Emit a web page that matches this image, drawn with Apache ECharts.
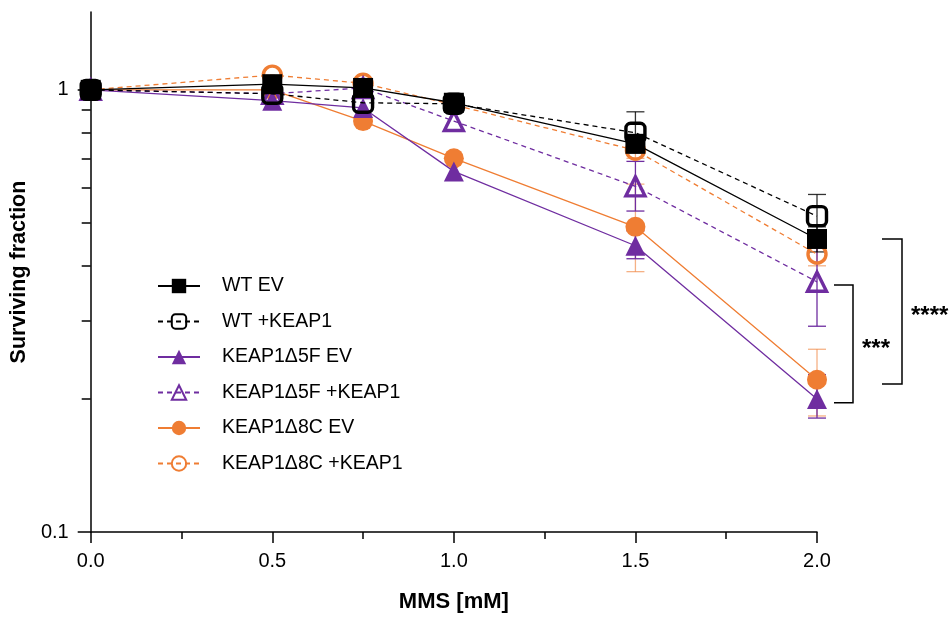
<!DOCTYPE html>
<html><head><meta charset="utf-8">
<script src="https://cdn.jsdelivr.net/npm/echarts@6/dist/echarts.min.js"></script>
<style>html,body{margin:0;padding:0;background:#fff}#c{width:949px;height:618px}</style>
</head><body><div id="c"></div>
<script>
// ---- data ----
const doses = [0, 0.5, 0.75, 1.0, 1.5, 2.0];
const seriesNames = ['WT EV', 'WT +KEAP1', 'KEAP1\u03945F EV', 'KEAP1\u03945F +KEAP1', 'KEAP1\u03948C EV', 'KEAP1\u03948C +KEAP1'];
const wtEV        = [1.0, 1.03, 1.01, 0.935, 0.755, 0.46];
const wtKEAP1     = [1.0, 0.98, 0.935, 0.93, 0.80, 0.518];
const d5fEV       = [1.0, 0.945, 0.91, 0.654, 0.444, 0.2];
const d5fKEAP1    = [1.0, 0.98, 1.01, 0.85, 0.605, 0.368];
const d8cEV       = [1.0, 1.0, 0.85, 0.70, 0.49, 0.221];
const d8cKEAP1    = [1.0, 1.08, 1.035, 0.925, 0.73, 0.425];
// error bar bounds (null = not visible)
const wtEVLow     = [null, 1.0, null, null, 0.73, 0.43];
const wtEVHigh    = [null, 1.06, null, null, 0.78, 0.49];
const wtKEAP1Low  = [null, null, null, null, 0.72, 0.46];
const wtKEAP1High = [null, null, null, null, 0.892, 0.58];
const d5fEVLow    = [null, null, null, null, 0.415, 0.181];
const d5fEVHigh   = [null, null, null, null, 0.48, 0.227];
const d5fKEAP1Low = [null, null, null, null, 0.532, 0.292];
const d5fKEAP1High= [null, null, null, null, 0.689, 0.448];
const d8cEVLow    = [null, null, null, null, 0.388, 0.183];
const d8cEVHigh   = [null, null, null, null, 0.612, 0.259];
const d8cKEAP1Low = [null, null, null, null, 0.70, 0.40];
const d8cKEAP1High= [null, null, null, null, 0.77, 0.45];
const xTickLabels = ['0.0', '0.5', '1.0', '1.5', '2.0'];
const yTickValues = [0.1, 1];
const yTickLabels = ['0.1', '1'];
const yMinorTicks = [0.2, 0.3, 0.4, 0.5, 0.6, 0.7, 0.8, 0.9];
const sigLabels   = ['***', '****'];
const sigTop      = [0.362, 0.46];
const sigBottom   = [0.196, 0.216];

// ---- style ----
const BLACK = '#000000', PURPLE = '#6F2DA0', ORANGE = '#EF7D33';
const FONT = 'Liberation Sans, Arial, Helvetica, sans-serif';

function pts(vals) { return doses.map((d, i) => [d, vals[i]]); }
function errPts(lo, hi) {
  const out = [];
  doses.forEach((d, i) => { if (lo[i] != null && hi[i] != null) out.push([d, lo[i], hi[i]]); });
  return out;
}
function errSeries(lo, hi, color, opacity, z) {
  return {
    type: 'custom', z: z, silent: true, clip: false,
    data: errPts(lo, hi), encode: { x: 0, y: [1, 2] },
    renderItem: function (params, api) {
      const x = api.value(0);
      const a = api.coord([x, api.value(1)]);
      const b = api.coord([x, api.value(2)]);
      const w = 9;
      const st = { stroke: color, lineWidth: 1.3, opacity: opacity };
      return { type: 'group', children: [
        { type: 'line', shape: { x1: a[0], y1: a[1], x2: b[0], y2: b[1] }, style: st },
        { type: 'line', shape: { x1: a[0] - w, y1: a[1], x2: a[0] + w, y2: a[1] }, style: st },
        { type: 'line', shape: { x1: b[0] - w, y1: b[1], x2: b[0] + w, y2: b[1] }, style: st }
      ]};
    }
  };
}
function lineSeries(name, vals, color, dashed, symbol, filled, size, z) {
  return {
    name: name, type: 'line', data: pts(vals), z: z,
    symbol: symbol, symbolSize: size, showSymbol: true,
    lineStyle: { color: color, width: 1.3, type: dashed ? [5, 4] : 'solid' },
    itemStyle: filled ? { color: color, borderColor: color, borderWidth: 0 }
                      : { color: 'rgba(255,255,255,0)', borderColor: color, borderWidth: 3.4 },
    emphasis: { disabled: true },
    animation: false
  };
}

const sigData = sigLabels.map((l, i) => [2.0, sigTop[i], sigBottom[i], l]);

const option = {
  animation: false,
  backgroundColor: '#ffffff',
  grid: { left: 90, right: 132, top: 12, bottom: 81, containLabel: false },
  xAxis: {
    type: 'value', min: 0, max: 2, interval: 0.5,
    name: 'MMS [mM]', nameLocation: 'middle', nameGap: 59,
    nameTextStyle: { fontFamily: FONT, fontSize: 22, fontWeight: 'bold', color: '#000' },
    axisLine: { show: true, lineStyle: { color: '#000', width: 1.5 } },
    axisTick: { show: true, length: 11, lineStyle: { color: '#000', width: 1.5 } },
    minorTick: { show: true, splitNumber: 2, length: 7, lineStyle: { color: '#000', width: 1.5 } },
    axisLabel: { fontFamily: FONT, fontSize: 20, color: '#000', margin: 19,
      formatter: function (v) { return xTickLabels[Math.round(v / 0.5)]; } },
    splitLine: { show: false }
  },
  yAxis: [{
    type: 'log', logBase: 10, min: 0.1, max: 1.5, position: 'left',
    name: 'Surviving fraction', nameLocation: 'middle', nameGap: 54, nameRotate: 90,
    nameTextStyle: { fontFamily: FONT, fontSize: 21.5, fontWeight: 'bold', color: '#000' },
    axisLine: { show: true, lineStyle: { color: '#000', width: 1.5 } },
    axisTick: { show: true, length: 13, customValues: yTickValues, lineStyle: { color: '#000', width: 1.5 } },
    axisLabel: { fontFamily: FONT, fontSize: 20, color: '#000', margin: 22, customValues: yTickValues,
      formatter: function (v) { const i = yTickValues.findIndex(t => Math.abs(t - v) < 1e-6); return i >= 0 ? yTickLabels[i] : ''; } },
    splitLine: { show: false }
  }, {
    type: 'log', logBase: 10, min: 0.1, max: 1.5, position: 'left', offset: 0,
    axisLine: { show: false },
    axisTick: { show: true, length: 9, customValues: yMinorTicks, lineStyle: { color: '#000', width: 1.5 } },
    axisLabel: { show: false, customValues: yMinorTicks },
    splitLine: { show: false }
  }],
  legend: {
    orient: 'vertical', left: 157, top: 276, padding: 0,
    itemWidth: 42, itemHeight: 18, itemGap: 15.5,
    data: seriesNames,
    textStyle: { fontFamily: FONT, fontSize: 19.5, color: '#000', padding: [0, 0, 0, 17] },
    selectedMode: false
  },
  series: [
    errSeries(d8cKEAP1Low, d8cKEAP1High, ORANGE, 0.6, 1),
    errSeries(d8cEVLow, d8cEVHigh, ORANGE, 0.6, 1),
    errSeries(d5fKEAP1Low, d5fKEAP1High, PURPLE, 1, 1),
    errSeries(d5fEVLow, d5fEVHigh, PURPLE, 1, 1),
    errSeries(wtKEAP1Low, wtKEAP1High, BLACK, 0.8, 1),
    errSeries(wtEVLow, wtEVHigh, BLACK, 0.8, 1),
    lineSeries(seriesNames[5], d8cKEAP1, ORANGE, true, 'circle', false, 18, 2),
    lineSeries(seriesNames[4], d8cEV, ORANGE, false, 'circle', true, 20, 3),
    lineSeries(seriesNames[3], d5fKEAP1, PURPLE, true, 'triangle', false, 19, 4),
    lineSeries(seriesNames[2], d5fEV, PURPLE, false, 'triangle', true, 20, 5),
    lineSeries(seriesNames[1], wtKEAP1, BLACK, true, 'roundRect', false, 19, 6),
    lineSeries(seriesNames[0], wtEV, BLACK, false, 'rect', true, 20, 7),
    {
      type: 'custom', z: 8, silent: true, clip: false,
      data: sigData, encode: { x: 0, y: [1, 2] },
      renderItem: function (params, api) {
        const idx = params.dataIndex;
        const x = api.value(0);
        const top = api.coord([x, api.value(1)]);
        const bot = api.coord([x, api.value(2)]);
        const vx = top[0] + (idx === 0 ? 36 : 85);
        const hx = top[0] + (idx === 0 ? 17 : 65);
        const st = { stroke: '#000', lineWidth: 1.5, fill: null };
        return { type: 'group', children: [
          { type: 'polyline', shape: { points: [[hx, top[1]], [vx, top[1]], [vx, bot[1]], [hx, bot[1]]] }, style: st },
          { type: 'text', x: vx + 9, y: (top[1] + bot[1]) / 2 + 5,
            style: { text: sigLabels[idx], fontFamily: FONT, fontSize: 24, fontWeight: 'bold', fill: '#000',
                     textAlign: 'left', textVerticalAlign: 'middle' } }
        ]};
      }
    }
  ]
};
const chart = echarts.init(document.getElementById('c'), null, { renderer: 'canvas' });
chart.setOption(option);
</script>
</body></html>
